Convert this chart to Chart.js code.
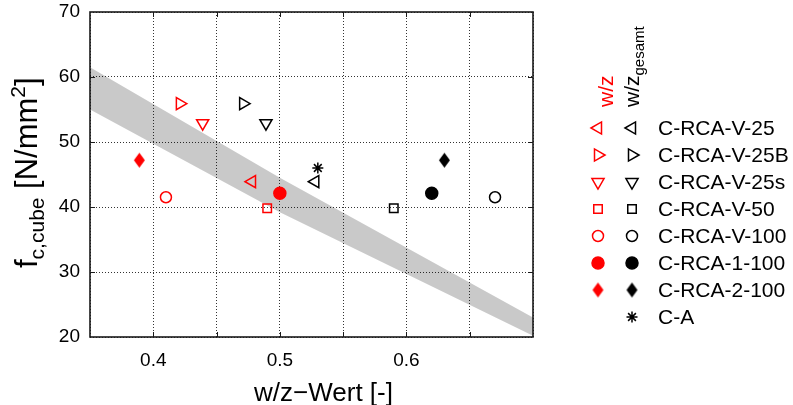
<!DOCTYPE html>
<html>
<head>
<meta charset="utf-8">
<script src="https://cdn.jsdelivr.net/npm/chart.js@4.4.0/dist/chart.umd.min.js"></script>
<style>
  html, body { margin: 0; padding: 0; background: #fff; }
  #wrap { width: 793px; height: 405px; }
</style>
</head>
<body>
<div id="wrap"><canvas id="fcChart"></canvas></div>
<script>
// mixes, cube strength and the two w/z definitions
const mixes = ['C-RCA-V-25', 'C-RCA-V-25B', 'C-RCA-V-25s', 'C-RCA-V-50', 'C-RCA-V-100', 'C-RCA-1-100', 'C-RCA-2-100', 'C-A'];
const fcCube = [43.9, 55.9, 52.9, 39.8, 41.5, 42.1, 47.2, 46.0];
const wz = [0.478, 0.421, 0.439, 0.49, 0.41, 0.5, 0.389, null];
const wzGesamt = [0.528, 0.471, 0.489, 0.59, 0.67, 0.62, 0.63, 0.53];

// grey scatter band
const bandX = [0.35, 0.5, 0.7];
const bandUpper = [61.5, 44.5, 23.0];
const bandLower = [55.0, 39.2, 20.2];

const xTickLabels = [0.4, 0.5, 0.6];
const yTicks = [20, 30, 40, 50, 60, 70];

// marker per mix
const markerShape = ['triangle', 'triangle', 'triangle', 'rect', 'circle', 'circle', 'diamond', 'star'];
const markerRotation = [-90, 90, 180, 0, 0, 0, 0, 0];
const markerFilled = [false, false, false, false, false, true, true, false];
const markerRadius = [7, 7, 7, 6, 5.5, 6, 7, 5.5];

const RED = '#ff0000';
const BLACK = '#000000';
const FONT = '"Liberation Sans", Arial, Helvetica, sans-serif';

Chart.defaults.font.family = FONT;
Chart.defaults.color = '#000';

function diamond(color) {
    const c = document.createElement('canvas');
    c.width = 13;
    c.height = 17;
    const g = c.getContext('2d');
    g.fillStyle = color;
    g.beginPath();
    g.moveTo(6.5, 1);
    g.lineTo(12, 8.5);
    g.lineTo(6.5, 16);
    g.lineTo(1, 8.5);
    g.closePath();
    g.fill();
    return c;
}

const diamonds = { [RED]: diamond(RED), [BLACK]: diamond(BLACK) };

function styleFor(i, color) {
    return markerShape[i] === 'diamond' ? diamonds[color] : markerShape[i];
}

function markerSeries(label, xs, color) {
    return {
        label: label,
        data: xs.map((x, i) => ({ x: x, y: fcCube[i] })),
        pointStyle: mixes.map((m, i) => styleFor(i, color)),
        pointRotation: markerRotation,
        pointRadius: markerRadius,
        pointBorderColor: color,
        pointBackgroundColor: markerFilled.map(f => f ? color : 'rgba(0,0,0,0)'),
        pointBorderWidth: 1.5,
        showLine: false,
        order: 0
    };
}

// rotated text with sub/superscript parts, reading bottom to top
function drawRotated(ctx, parts, x, y) {
    ctx.save();
    ctx.translate(x, y);
    ctx.rotate(-Math.PI / 2);
    ctx.textAlign = 'left';
    ctx.textBaseline = 'alphabetic';
    let cx = 0;
    parts.forEach(p => {
        ctx.font = p.size + 'px ' + FONT;
        ctx.fillStyle = p.color || BLACK;
        ctx.fillText(p.text, cx, p.shift || 0);
        cx += ctx.measureText(p.text).width;
    });
    ctx.restore();
}

const decorations = {
    id: 'decorations',
    afterDatasetsDraw(chart) {
        const ctx = chart.ctx;
        const a = chart.chartArea;
        const xs = chart.scales.x;
        const ys = chart.scales.y;

        // frame with inward ticks
        ctx.save();
        ctx.strokeStyle = '#1a1a1a';
        ctx.lineWidth = 1;
        ctx.beginPath();
        xs.ticks.forEach(t => {
            if (t.value <= xs.min + 1e-9 || t.value >= xs.max - 1e-9) return;
            const px = Math.round(xs.getPixelForValue(t.value)) + 0.5;
            ctx.moveTo(px, a.bottom); ctx.lineTo(px, a.bottom - 5);
            ctx.moveTo(px, a.top); ctx.lineTo(px, a.top + 5);
        });
        ys.ticks.forEach(t => {
            if (t.value <= ys.min || t.value >= ys.max) return;
            const py = Math.round(ys.getPixelForValue(t.value)) + 0.5;
            ctx.moveTo(a.left, py); ctx.lineTo(a.left + 5, py);
            ctx.moveTo(a.right, py); ctx.lineTo(a.right - 5, py);
        });
        ctx.stroke();
        ctx.lineWidth = 1.6;
        ctx.strokeRect(a.left, a.top, a.right - a.left, a.bottom - a.top);
        ctx.restore();

        // axis titles
        ctx.save();
        ctx.fillStyle = BLACK;
        ctx.font = '26px ' + FONT;
        ctx.textAlign = 'center';
        ctx.textBaseline = 'alphabetic';
        ctx.fillText('w/z\u2212Wert [-]', (a.left + a.right) / 2 + 12, 401);
        ctx.restore();

        drawRotated(ctx, [
            { text: 'f', size: 31 },
            { text: 'c,cube', size: 21, shift: 7 },
            { text: ' [N/mm', size: 31 },
            { text: '2', size: 21, shift: -12 },
            { text: ']', size: 31 }
        ], 37, 268);

        // legend column headers
        drawRotated(ctx, [{ text: 'w/z', size: 21, color: RED }], 613, 107);
        drawRotated(ctx, [
            { text: 'w/z', size: 21 },
            { text: 'gesamt', size: 15, shift: 5 }
        ], 639, 107);

        // legend rows
        ctx.save();
        ctx.lineWidth = 1.5;
        mixes.forEach((m, i) => {
            const y = 128 + 27 * i;
            [[wz, RED, 598], [wzGesamt, BLACK, 632]].forEach(([vals, color, x]) => {
                if (vals[i] === null) return;
                ctx.strokeStyle = color;
                ctx.fillStyle = markerFilled[i] ? color : 'rgba(0,0,0,0)';
                Chart.helpers.drawPoint(ctx, {
                    pointStyle: styleFor(i, color),
                    rotation: markerRotation[i],
                    radius: markerRadius[i],
                    borderWidth: 1.5
                }, x, y);
            });
            ctx.fillStyle = BLACK;
            ctx.font = '21px ' + FONT;
            ctx.textAlign = 'left';
            ctx.textBaseline = 'middle';
            ctx.fillText(m, 658, y + 1);
        });
        ctx.restore();
    }
};

new Chart(document.getElementById('fcChart'), {
    type: 'scatter',
    data: {
        datasets: [
            markerSeries('w/z', wz, RED),
            markerSeries('w/z gesamt', wzGesamt, BLACK),
            {
                type: 'line',
                label: 'band',
                data: bandX.map((x, i) => ({ x: x, y: bandUpper[i] })),
                borderColor: 'rgba(0,0,0,0)',
                borderWidth: 0,
                pointRadius: 0,
                backgroundColor: 'rgba(0,0,0,0.21)',
                fill: '+1',
                tension: 0,
                order: 5
            },
            {
                type: 'line',
                label: 'band lower',
                data: bandX.map((x, i) => ({ x: x, y: bandLower[i] })),
                borderColor: 'rgba(0,0,0,0)',
                borderWidth: 0,
                pointRadius: 0,
                fill: false,
                tension: 0,
                order: 5
            }
        ]
    },
    options: {
        responsive: true,
        maintainAspectRatio: false,
        animation: false,
        events: [],
        layout: { padding: { top: 12, right: 260, left: 0, bottom: 0 } },
        plugins: {
            legend: { display: false },
            tooltip: { enabled: false }
        },
        scales: {
            x: {
                type: 'linear',
                min: 0.35,
                max: 0.7,
                afterFit: s => { s.height = 68; s.paddingLeft = 0; s.paddingRight = 0; },
                ticks: {
                    stepSize: 0.05,
                    autoSkip: false,
                    maxRotation: 0,
                    padding: 12,
                    font: { size: 19 },
                    color: '#000',
                    callback: v => xTickLabels.some(t => Math.abs(t - v) < 1e-9) ? v.toFixed(1) : ''
                },
                grid: { color: '#333', lineWidth: 1, drawTicks: false },
                border: { display: false, dash: [1, 2] }
            },
            y: {
                min: 20,
                max: 70,
                afterFit: s => { s.width = 90; s.paddingTop = 0; s.paddingBottom = 0; },
                afterBuildTicks: s => { s.ticks = yTicks.map(v => ({ value: v })); },
                ticks: {
                    padding: 10,
                    font: { size: 19 },
                    color: '#000'
                },
                grid: { color: '#333', lineWidth: 1, drawTicks: false },
                border: { display: false, dash: [1, 2] }
            }
        }
    },
    plugins: [decorations]
});
</script>
</body>
</html>
